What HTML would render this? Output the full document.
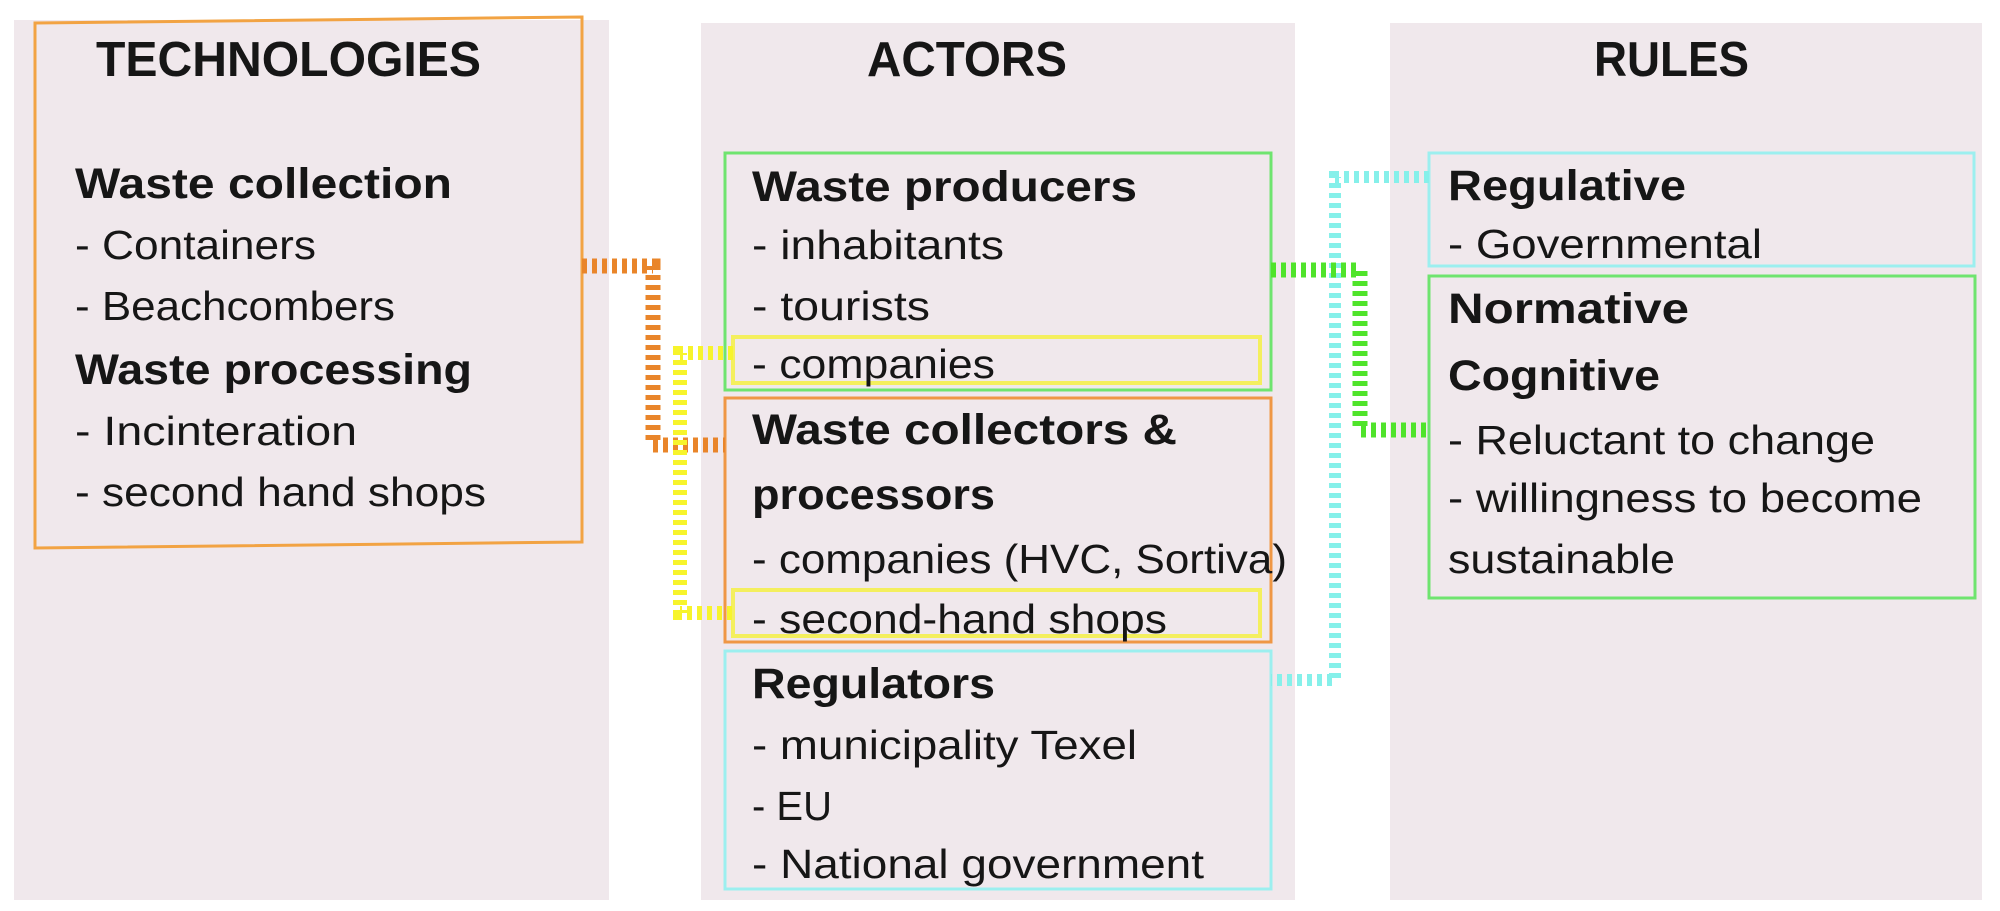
<!DOCTYPE html>
<html><head><meta charset="utf-8"><style>
html,body{margin:0;padding:0;background:#fff;}
svg{display:block;}
text{font-family:"Liberation Sans",sans-serif;fill:#161616;}
.b{font-weight:bold;font-size:43px;}
.r{font-size:41px;}
.t{font-weight:bold;font-size:49px;}
</style></head><body>
<svg width="2000" height="911" viewBox="0 0 2000 911" xmlns="http://www.w3.org/2000/svg">
<rect width="2000" height="911" fill="#fff"/>
<rect x="14" y="20" width="595" height="880" fill="#f0e8ec"/>
<rect x="701" y="23" width="594" height="877" fill="#f0e8ec"/>
<rect x="1390" y="23" width="592" height="877" fill="#f0e8ec"/>

<polygon points="35,23 582,17 582,542 35,548" fill="none" stroke="#f2a343" stroke-width="3"/>
<rect x="725" y="153" width="546" height="237" fill="none" stroke="#6fe46f" stroke-width="3"/>
<rect x="725" y="398" width="546" height="244" fill="none" stroke="#ef9745" stroke-width="3"/>
<rect x="733" y="337" width="527" height="46" fill="none" stroke="#f4ef5e" stroke-width="4"/>
<rect x="733" y="590" width="527" height="46" fill="none" stroke="#f4ef5e" stroke-width="4"/>
<rect x="725" y="651" width="546" height="238" fill="none" stroke="#9cefef" stroke-width="3"/>
<rect x="1429" y="153" width="545" height="113" fill="none" stroke="#9cefef" stroke-width="3"/>
<rect x="1429" y="276" width="546" height="322" fill="none" stroke="#6fe46f" stroke-width="3"/>

<g fill="none" stroke-dasharray="5 5">
<polyline points="582,266 653,266 653,445 725,445" stroke="#e9852a" stroke-width="15"/>
<polyline points="733,353 680,353 680,613 733,613" stroke="#f7f42c" stroke-width="14"/>
<polyline points="1429,177 1335,177 1335,680 1271,680" stroke="#86f0ea" stroke-width="12"/>
<polyline points="1271,270 1360,270 1360,430 1429,430" stroke="#4fe42a" stroke-width="15"/>
</g>

<text class="t" x="96" y="76" textLength="385" lengthAdjust="spacingAndGlyphs">TECHNOLOGIES</text>
<text class="t" x="867" y="76" textLength="200" lengthAdjust="spacingAndGlyphs">ACTORS</text>
<text class="t" x="1594" y="76" textLength="155" lengthAdjust="spacingAndGlyphs">RULES</text>

<text class="b" x="75" y="198" textLength="377" lengthAdjust="spacingAndGlyphs">Waste collection</text>
<text class="r" x="75" y="259" textLength="241" lengthAdjust="spacingAndGlyphs">- Containers</text>
<text class="r" x="75" y="320" textLength="320" lengthAdjust="spacingAndGlyphs">- Beachcombers</text>
<text class="b" x="75" y="384" textLength="397" lengthAdjust="spacingAndGlyphs">Waste processing</text>
<text class="r" x="75" y="445" textLength="282" lengthAdjust="spacingAndGlyphs">- Incinteration</text>
<text class="r" x="75" y="506" textLength="411" lengthAdjust="spacingAndGlyphs">- second hand shops</text>

<text class="b" x="752" y="201" textLength="385" lengthAdjust="spacingAndGlyphs">Waste producers</text>
<text class="r" x="752" y="259" textLength="252" lengthAdjust="spacingAndGlyphs">- inhabitants</text>
<text class="r" x="752" y="320" textLength="178" lengthAdjust="spacingAndGlyphs">- tourists</text>
<text class="r" x="752" y="378" textLength="243" lengthAdjust="spacingAndGlyphs">- companies</text>
<text class="b" x="752" y="444" textLength="425" lengthAdjust="spacingAndGlyphs">Waste collectors &amp;</text>
<text class="b" x="752" y="509" textLength="243" lengthAdjust="spacingAndGlyphs">processors</text>
<text class="r" x="752" y="573" textLength="535" lengthAdjust="spacingAndGlyphs">- companies (HVC, Sortiva)</text>
<text class="r" x="752" y="633" textLength="415" lengthAdjust="spacingAndGlyphs">- second-hand shops</text>
<text class="b" x="752" y="698" textLength="243" lengthAdjust="spacingAndGlyphs">Regulators</text>
<text class="r" x="752" y="759" textLength="385" lengthAdjust="spacingAndGlyphs">- municipality Texel</text>
<text class="r" x="752" y="820" textLength="80" lengthAdjust="spacingAndGlyphs">- EU</text>
<text class="r" x="752" y="878" textLength="452" lengthAdjust="spacingAndGlyphs">- National government</text>

<text class="b" x="1448" y="200" textLength="238" lengthAdjust="spacingAndGlyphs">Regulative</text>
<text class="r" x="1448" y="258" textLength="314" lengthAdjust="spacingAndGlyphs">- Governmental</text>
<text class="b" x="1448" y="323" textLength="241" lengthAdjust="spacingAndGlyphs">Normative</text>
<text class="b" x="1448" y="390" textLength="212" lengthAdjust="spacingAndGlyphs">Cognitive</text>
<text class="r" x="1448" y="454" textLength="427" lengthAdjust="spacingAndGlyphs">- Reluctant to change</text>
<text class="r" x="1448" y="512" textLength="474" lengthAdjust="spacingAndGlyphs">- willingness to become</text>
<text class="r" x="1448" y="573" textLength="227" lengthAdjust="spacingAndGlyphs">sustainable</text>
</svg>
</body></html>
